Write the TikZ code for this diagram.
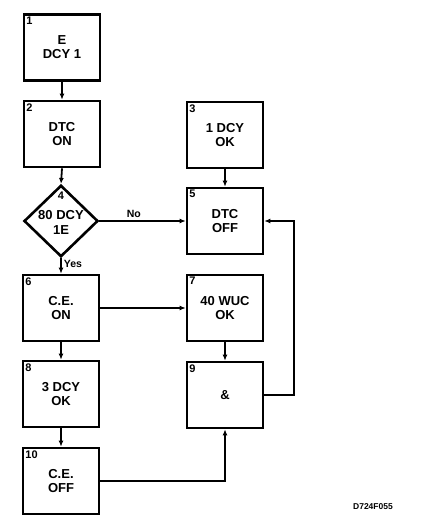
\documentclass[tikz,border=0pt]{standalone}
\usepackage{fontspec}
\setmainfont{Liberation Sans}
\usetikzlibrary{arrows.meta,shapes.geometric}

\begin{document}
\begin{tikzpicture}[
  x=1pt,y=-1pt,
  font=\fontsize{13}{14}\selectfont\bfseries,
  >={Latex[length=6pt,width=5pt]},
  stepbox/.style={draw,line width=2.6pt,minimum width=76pt,minimum height=66pt,align=center,inner sep=1pt},
  test/.style={draw,shape=diamond,line width=2.6pt,minimum width=74pt,minimum height=66pt,inner sep=0pt,align=center},
  num/.style={anchor=north west,inner sep=3.5pt,font=\fontsize{11}{12}\selectfont\bfseries},
  tag/.style={inner sep=2pt,font=\fontsize{10.5}{11}\selectfont\bfseries},
  flow/.style={line width=1.8pt,->}
]
\useasboundingbox (0,0) rectangle (432,526);
% --- left column -----------------------------------------------------------
\node[stepbox] (b1) at (62,47.5) {E\\DCY 1};
\node[stepbox] (b2) at (62,134) {DTC\\ON};
\node[test] (d4) at (61,221) {\\[-2pt]80 DCY\\1E};
\node[stepbox] (b6) at (61,308) {C.E.\\ON};
\node[stepbox] (b8) at (61,394) {3 DCY\\OK};
\node[stepbox] (b10) at (61,481) {C.E.\\OFF};
% --- right column ----------------------------------------------------------
\node[stepbox] (b3) at (225,135) {1 DCY\\OK};
\node[stepbox] (b5) at (225,221) {DTC\\OFF};
\node[stepbox] (b7) at (225,308) {40 WUC\\OK};
\node[stepbox] (b9) at (225,395) {\&};
% --- box numbers -----------------------------------------------------------
\foreach \k in {1,2,3,5,6,7,8,9,10}{\node[num] (n\k) at (b\k.north west) {\k};}
\node[num,anchor=north,yshift=-4pt] (n4) at (d4.north) {4};
\node[tag,font=\fontsize{8.5}{9}\selectfont\bfseries] (fig) at (373,507) {D724F055};
% --- connectors ------------------------------------------------------------
\foreach \a/\b in {b1/b2,b2/d4,b3/b5,b6/b8,b7/b9,b8/b10}{\draw[flow] (\a.south) -- (\b.north);}
\draw[flow] (d4.east) -- (b5.west) node[tag,pos=0.4,above] {No};
\draw[flow] (d4.south) -- (b6.north) node[tag,pos=0.35,right] {Yes};
\draw[flow] (b6.east) -- (b7.west);
\draw[flow] (b10.east) -| (b9.south);
\draw[flow] (b9.east) -- ++(30,0) |- (b5.east);
\end{tikzpicture}
\end{document}
